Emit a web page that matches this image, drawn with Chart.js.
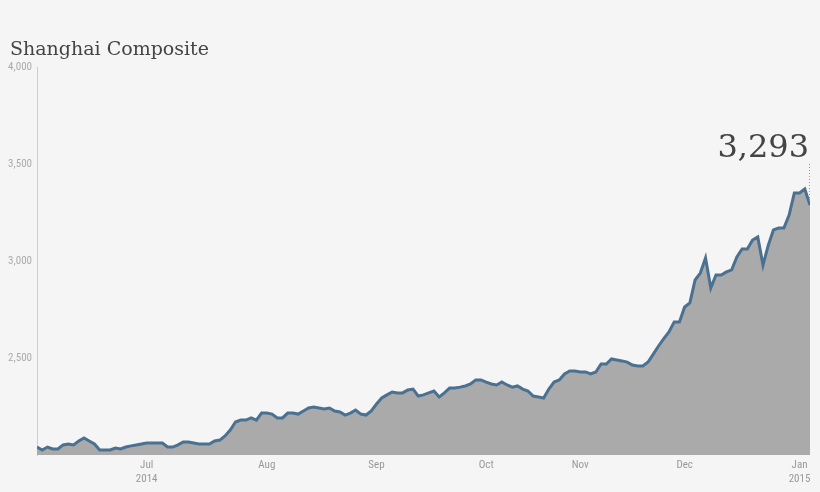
<!DOCTYPE html>
<html>
<head>
<meta charset="utf-8">
<script src="https://cdn.jsdelivr.net/npm/chart.js@4/dist/chart.umd.min.js"></script>
<style>
  html, body { margin: 0; padding: 0; background: #f5f5f5; }
  #wrap { width: 820px; height: 492px; position: relative; }
</style>
</head>
<body>
<div id="wrap"><canvas id="chart"></canvas></div>
<script>
// Shanghai Composite, daily closes (trading days, Jun 2014 - Jan 2015)
var values = [
    2041, 2026, 2041, 2031, 2031, 2052, 2057, 2052, 2072, 2088,
    2072, 2057, 2026, 2026, 2026, 2036, 2031, 2041, 2047, 2052,
    2057, 2062, 2062, 2062, 2062, 2041, 2041, 2052, 2067, 2067,
    2062, 2057, 2057, 2057, 2072, 2077, 2098, 2129, 2170, 2180,
    2180, 2191, 2180, 2216, 2216, 2211, 2191, 2191, 2216, 2216,
    2211, 2227, 2242, 2247, 2242, 2237, 2242, 2227, 2222, 2206,
    2216, 2232, 2211, 2206, 2227, 2263, 2294, 2310, 2325, 2320,
    2320, 2335, 2340, 2304, 2310, 2320, 2330, 2299, 2320, 2345,
    2345, 2350, 2356, 2366, 2387, 2387, 2376, 2366, 2361, 2376,
    2361, 2350, 2356, 2340, 2330, 2304, 2299, 2294, 2340, 2376,
    2387, 2418, 2433, 2433, 2428, 2428, 2418, 2428, 2469, 2469,
    2495, 2490, 2485, 2479, 2464, 2459, 2459, 2479, 2520, 2562,
    2600, 2634, 2686, 2686, 2763, 2784, 2902, 2938, 3016, 2861,
    2928, 2928, 2944, 2954, 3021, 3062, 3062, 3108, 3124, 2979,
    3080, 3160, 3170, 3170, 3237, 3351, 3351, 3371, 3289
];
var tickIdx = [21, 44, 65, 86, 104, 124, 146];
var tickLabels = [["Jul", "2014"], "Aug", "Sep", "Oct", "Nov", "Dec", ["Jan", "2015"]];
var yTicks = [2500, 3000, 3500, 4000];
var lastLabel = "3,293";

var points = values.map(function (v, i) { return { x: i, y: v }; });

var overlay = {
    id: "overlay",
    afterDraw: function (chart) {
        var c = chart.ctx;
        c.save();
        c.fillStyle = "#444";
        c.font = "19px 'DejaVu Serif', serif";
        c.textBaseline = "alphabetic";
        c.textAlign = "left";
        c.fillText("Shanghai Composite", 10, 55);
        var last = values.length - 1;
        var px = chart.scales.x.getPixelForValue(last);
        var py = chart.scales.y.getPixelForValue(values[last]);
        c.font = "32px 'DejaVu Serif', serif";
        c.textAlign = "right";
        c.fillText(lastLabel, 809, 157);
        c.strokeStyle = "#999";
        c.lineWidth = 1;
        c.setLineDash([1, 2]);
        c.beginPath();
        c.moveTo(px - 0.5, 164);
        c.lineTo(px - 0.5, py - 2);
        c.stroke();
        c.restore();
    }
};

new Chart(document.getElementById("chart"), {
    type: "line",
    data: {
        datasets: [
            {
                data: points,
                borderColor: "#4a7191",
                borderWidth: 3,
                backgroundColor: "#aaaaaa",
                fill: "start",
                pointRadius: 0,
                tension: 0,
            },
        ],
    },
    options: {
        responsive: true,
        maintainAspectRatio: false,
        animation: false,
        layout: { padding: { top: 67, right: 10, left: 0, bottom: 0 } },
        plugins: { legend: { display: false }, tooltip: { enabled: false } },
        scales: {
            x: {
                type: "linear",
                min: 0,
                max: values.length - 1,
                afterBuildTicks: function (axis) {
                    axis.ticks = tickIdx.map(function (v) { return { value: v }; });
                },
                afterFit: function (axis) { axis.height = 37; },
                grid: { display: false, drawTicks: false },
                border: { display: false },
                ticks: {
                    autoSkip: false,
                    maxRotation: 0,
                    padding: 4,
                    color: "#999",
                    font: { family: "'Liberation Sans Narrow', 'Roboto Condensed', Roboto", size: 11 },
                    callback: function (v) { return tickLabels[tickIdx.indexOf(v)]; },
                },
            },
            y: {
                min: 2000,
                max: 4000,
                afterBuildTicks: function (axis) {
                    axis.ticks = yTicks.map(function (v) { return { value: v }; });
                },
                afterFit: function (axis) { axis.width = 37; },
                grid: { display: false, drawTicks: true, tickLength: 3, tickColor: "#ccc" },
                border: { display: true, color: "#ccc", width: 1 },
                ticks: {
                    padding: 2,
                    color: "#aaa",
                    font: { family: "'Liberation Sans Narrow', 'Roboto Condensed', Roboto", size: 11 },
                    callback: function (v) { return v.toLocaleString("en-US"); },
                },
            },
        },
    },
    plugins: [overlay],
});
</script>
</body>
</html>
